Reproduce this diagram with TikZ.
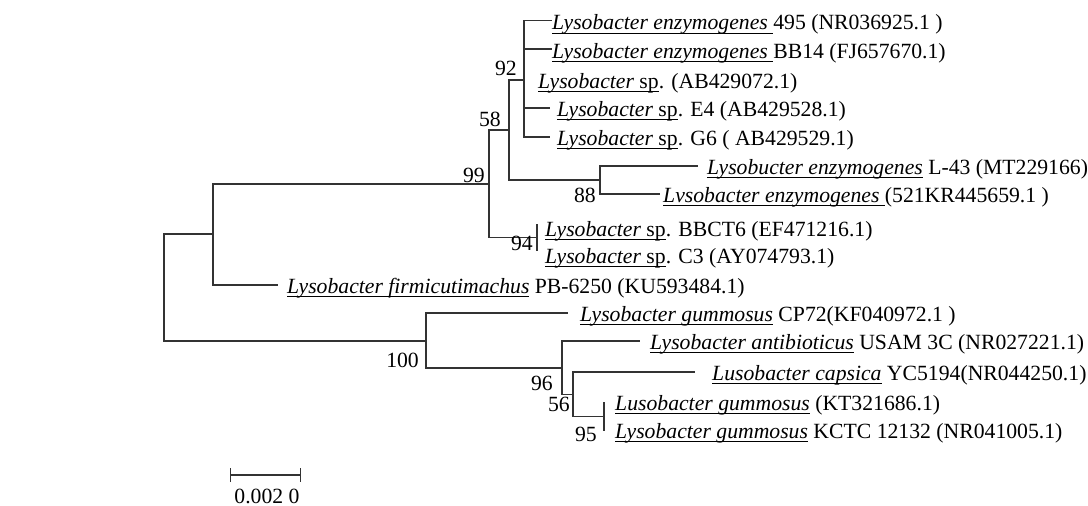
\documentclass[tikz,border=0pt]{standalone}
\usepackage{fontspec}
\setmainfont{Liberation Serif}
\usetikzlibrary{arrows.meta}
\newsavebox{\taxbox}
\newcommand{\taxon}[1]{\sbox{\taxbox}{#1}\rlap{\rule[-4pt]{\wd\taxbox}{1.1pt}}\usebox{\taxbox}}

\begin{document}
\begin{tikzpicture}[
  x=1pt, y=-1pt,
  font=\fontsize{21.7}{26}\selectfont,
  branch/.style={line width=1.3pt, draw=black!80},
  leaf/.style={anchor=base west, inner sep=0pt},
  boot/.style={anchor=base east, inner sep=0pt},
  scalebar/.style={line width=1.3pt, draw=black!80, {Bar[width=14pt]}-{Bar[width=14pt]}}
]
  \useasboundingbox (0,0) rectangle (1088,506);

  \coordinate (root) at (164,287.5);
  \coordinate (nA) at (213,234);
  \coordinate (n99) at (489,184);
  \coordinate (n58) at (509,130);
  \coordinate (n92) at (524,80);
  \coordinate (n88) at (600,180);
  \coordinate (n94) at (537,237.5);
  \coordinate (n100) at (426,341);
  \coordinate (n96) at (562,368);
  \coordinate (n56) at (573,394.5);
  \coordinate (n95) at (604,416.5);

  \coordinate (t1) at (552,20.5);
  \coordinate (t2) at (552,49);
  \coordinate (t3) at (524,80);
  \coordinate (t4) at (550,108);
  \coordinate (t5) at (550,137);
  \coordinate (t6) at (698,166);
  \coordinate (t7) at (660,194);
  \coordinate (t8) at (537,224);
  \coordinate (t9) at (537,251);
  \coordinate (t10) at (278,285);
  \coordinate (t11) at (568,313);
  \coordinate (t12) at (640,341);
  \coordinate (t13) at (695,372);
  \coordinate (t14) at (604,402);
  \coordinate (t15) at (604,431);

  \node[leaf] (l1) at (552,30) {\taxon{\textit{Lysobacter enzymogenes}\ }495 (NR036925.1 )};
  \node[leaf] (l2) at (552,58) {\taxon{\textit{Lysobacter enzymogenes}\ }BB14 (FJ657670.1)};
  \node[leaf] (l3) at (538,88) {\taxon{\textit{Lysobacter} sp}. (AB429072.1)};
  \node[leaf] (l4) at (557,116) {\taxon{\textit{Lysobacter} sp}. E4 (AB429528.1)};
  \node[leaf] (l5) at (557,145) {\taxon{\textit{Lysobacter} sp}. G6 ( AB429529.1)};
  \node[leaf] (l6) at (707,174) {\taxon{\textit{Lysobucter enzymogenes}} L-43 (MT229166)};
  \node[leaf] (l7) at (663,202) {\taxon{\textit{Lvsobacter enzymogenes}\ }(521KR445659.1 )};
  \node[leaf] (l8) at (545,236) {\taxon{\textit{Lysobacter} sp}. BBCT6 (EF471216.1)};
  \node[leaf] (l9) at (545,263) {\taxon{\textit{Lysobacter} sp}. C3 (AY074793.1)};
  \node[leaf] (l10) at (287,293) {\taxon{\textit{Lysobacter firmicutimachus}} PB-6250 (KU593484.1)};
  \node[leaf] (l11) at (580,321) {\taxon{\textit{Lysobacter gummosus}} CP72(KF040972.1 )};
  \node[leaf] (l12) at (650,349) {\taxon{\textit{Lysobacter antibioticus}} USAM 3C (NR027221.1)};
  \node[leaf] (l13) at (712,380) {\taxon{\textit{Lusobacter capsica}} YC5194(NR044250.1)};
  \node[leaf] (l14) at (615,410) {\taxon{\textit{Lusobacter gummosus}} (KT321686.1)};
  \node[leaf] (l15) at (615,438) {\taxon{\textit{Lysobacter gummosus}} KCTC 12132 (NR041005.1)};

  \draw[branch] (root) |- (nA);
  \draw[branch] (root) |- (n100);
  \draw[branch] (nA) |- (n99);
  \draw[branch] (nA) |- (t10);
  \draw[branch] (n99) |- (n58);
  \draw[branch] (n99) |- (n94);
  \draw[branch] (n58) |- (n92);
  \draw[branch] (n58) |- (n88);
  \draw[branch] (n92) |- (t1);
  \draw[branch] (n92) |- (t2);
  \draw[branch] (n92) |- (t3);
  \draw[branch] (n92) |- (t4);
  \draw[branch] (n92) |- (t5);
  \draw[branch] (n88) |- (t6);
  \draw[branch] (n88) |- (t7);
  \draw[branch] (n94) |- (t8);
  \draw[branch] (n94) |- (t9);
  \draw[branch] (n100) |- (t11);
  \draw[branch] (n100) |- (n96);
  \draw[branch] (n96) |- (t12);
  \draw[branch] (n96) |- (n56);
  \draw[branch] (n56) |- (t13);
  \draw[branch] (n56) |- (n95);
  \draw[branch] (n95) |- (t14);
  \draw[branch] (n95) |- (t15);

  \node[boot] (b92) at (517,75) {92};
  \node[boot] (b58) at (501,126) {58};
  \node[boot] (b99) at (485,182) {99};
  \node[boot] (b88) at (596,202) {88};
  \node[boot] (b94) at (533,250) {94};
  \node[boot] (b100) at (419,367) {100};
  \node[boot] (b96) at (553,390) {96};
  \node[boot] (b56) at (570,411) {56};
  \node[boot] (b95) at (597,441) {95};

  \coordinate (sb1) at (230,475);
  \coordinate (sb2) at (301,475);
  \draw[scalebar] (sb1) -- (sb2);
  \node[anchor=base, inner sep=0pt] (sblabel) at (267,503) {0.002 0};
\end{tikzpicture}
\end{document}
